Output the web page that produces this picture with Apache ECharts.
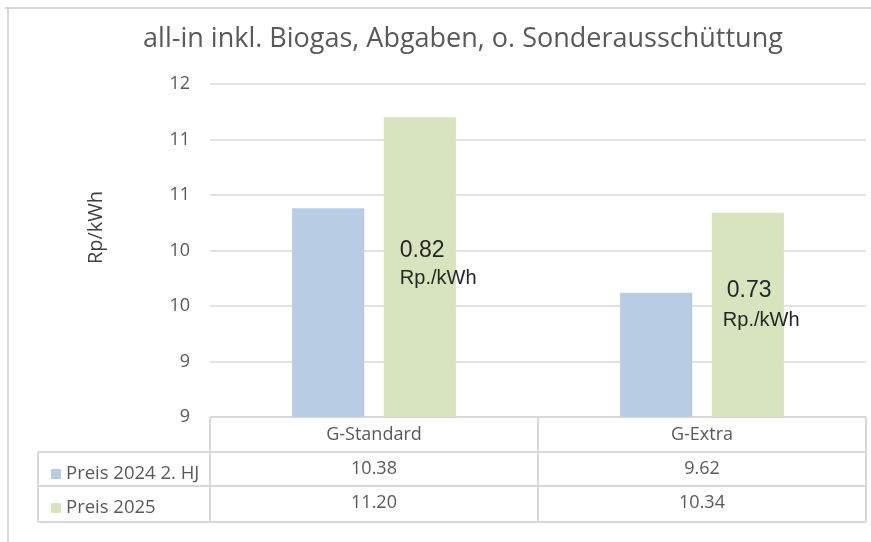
<!DOCTYPE html>
<html>
<head>
<meta charset="utf-8">
<script src="https://cdn.jsdelivr.net/npm/echarts@6/dist/echarts.min.js"></script>
<style>
html,body{margin:0;padding:0;background:#fff;}
#chart{width:871px;height:542px;}
</style>
</head>
<body>
<div id="chart"></div>
<script>
const categories = ['G-Standard', 'G-Extra'];
const seriesNames = ['Preis 2024 2. HJ', 'Preis 2025'];
const price2024 = [10.38, 9.62];
const price2025 = [11.20, 10.34];
const diffValues = ['0.82', '0.73'];
const diffUnit = 'Rp./kWh';
const diffAnchor = [10.0, 9.64];
const unitAnchor = [9.75, 9.37];

const FONT = '"Open Sans", "Noto Sans", sans-serif';
const GRAY = '#595959';
const LINE = '#d9d9d9';

const chart = echarts.init(document.getElementById('chart'));

const markData = [];
categories.forEach((c, i) => {
  markData.push({ coord: [i, diffAnchor[i]], label: { formatter: diffValues[i], fontSize: 23, offset: [i === 0 ? -20 : -21, 0] } });
  markData.push({ coord: [i, unitAnchor[i]], label: { formatter: diffUnit, fontSize: 20, offset: [i === 0 ? -20 : -25, 0] } });
});

const G = { left: 210, right: 5, top: 84, bottom: 125 };
const gx0 = G.left, gx1 = 871 - G.right, gy = 542 - G.bottom;

chart.setOption({
  animation: false,
  textStyle: { fontFamily: FONT },
  title: {
    text: 'all-in inkl. Biogas, Abgaben, o. Sonderausschüttung',
    left: 458, textAlign: 'center', top: 21,
    textStyle: { fontFamily: FONT, fontSize: 27, fontWeight: 'normal', color: GRAY }
  },
  legend: {
    orient: 'vertical', left: 46, top: 457,
    icon: 'rect', itemWidth: 10, itemHeight: 10, itemGap: 10,
    textStyle: { fontFamily: FONT, fontSize: 18.5, color: GRAY, lineHeight: 24 },
    data: seriesNames
  },
  grid: G,
  xAxis: {
    type: 'category', data: categories,
    axisLine: { show: false }, axisTick: { show: false },
    axisLabel: {
      margin: 1,
      formatter: (v, i) => '{h|' + v + '}\n{v|' + price2024[i].toFixed(2) + '}\n{v|' + price2025[i].toFixed(2) + '}',
      rich: {
        h: { fontFamily: FONT, fontSize: 18, color: GRAY, lineHeight: 34 },
        v: { fontFamily: FONT, fontSize: 18, color: GRAY, lineHeight: 34 }
      }
    }
  },
  yAxis: {
    type: 'value', min: 8.5, max: 11.5, interval: 0.5,
    name: 'Rp/kWh', nameLocation: 'middle', nameRotate: 90, nameGap: 104,
    nameTextStyle: { fontFamily: FONT, fontSize: 20, color: '#404040', padding: [0, 0, 0, 46] },
    axisLine: { show: false }, axisTick: { show: false },
    axisLabel: { margin: 20, fontSize: 18, color: GRAY, formatter: v => String(Math.round(v)) },
    splitLine: { lineStyle: { color: LINE, width: 1.5 } }
  },
  series: [
    { name: seriesNames[0], type: 'bar', data: price2024, barWidth: '22%', barGap: '27%',
      itemStyle: { color: '#b8cce4' } },
    { name: seriesNames[1], type: 'bar', data: price2025, barWidth: '22%',
      itemStyle: { color: '#d7e4bd' },
      markPoint: {
        symbol: 'circle', symbolSize: 0,
        label: { show: true, position: 'inside', align: 'left', color: '#262626', fontFamily: '"Liberation Sans", Arial, sans-serif' },
        data: markData
      }
    }
  ],
  graphic: [
    { type: 'line', shape: { x1: 5, y1: 8, x2: 871, y2: 8 }, style: { stroke: LINE, lineWidth: 2 } },
    { type: 'line', shape: { x1: 8, y1: 8, x2: 8, y2: 542 }, style: { stroke: LINE, lineWidth: 2 } },
    { type: 'line', shape: { x1: gx0, y1: gy, x2: gx1, y2: gy }, style: { stroke: LINE, lineWidth: 2 } },
    { type: 'line', shape: { x1: 38, y1: gy + 35, x2: gx1, y2: gy + 35 }, style: { stroke: LINE, lineWidth: 2 } },
    { type: 'line', shape: { x1: 38, y1: gy + 69, x2: gx1, y2: gy + 69 }, style: { stroke: LINE, lineWidth: 2 } },
    { type: 'line', shape: { x1: 38, y1: gy + 105, x2: gx1, y2: gy + 105 }, style: { stroke: LINE, lineWidth: 2 } },
    { type: 'line', shape: { x1: 38, y1: gy + 35, x2: 38, y2: gy + 105 }, style: { stroke: LINE, lineWidth: 2 } },
    { type: 'line', shape: { x1: gx0, y1: gy, x2: gx0, y2: gy + 105 }, style: { stroke: LINE, lineWidth: 2 } },
    { type: 'line', shape: { x1: (gx0 + gx1) / 2, y1: gy, x2: (gx0 + gx1) / 2, y2: gy + 105 }, style: { stroke: LINE, lineWidth: 2 } },
    { type: 'line', shape: { x1: gx1, y1: gy, x2: gx1, y2: gy + 105 }, style: { stroke: LINE, lineWidth: 2 } }
  ]
});
</script>
</body>
</html>
